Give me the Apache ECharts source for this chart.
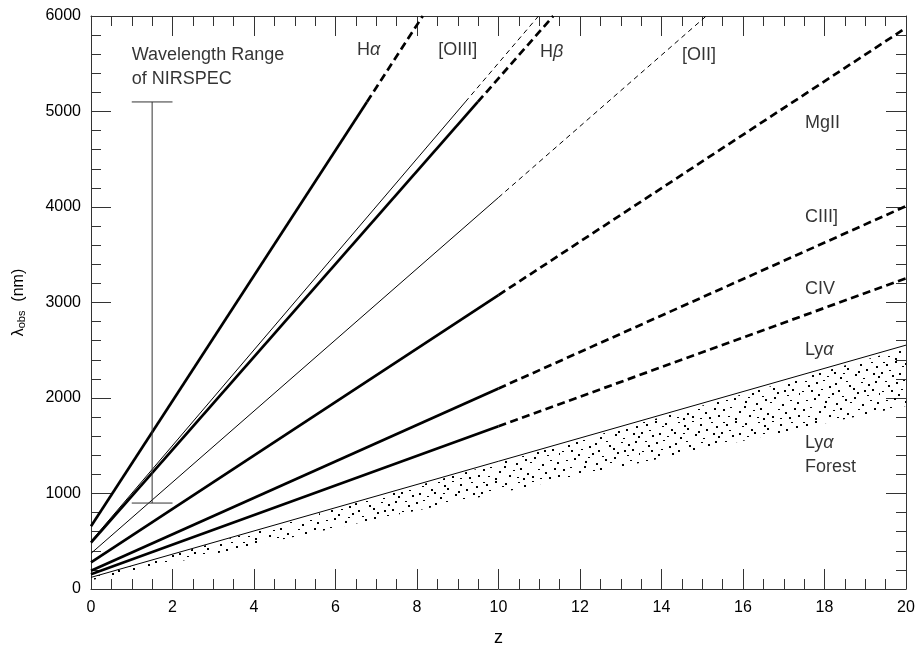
<!DOCTYPE html>
<html>
<head>
<meta charset="utf-8">
<script src="https://cdn.jsdelivr.net/npm/echarts@6/dist/echarts.min.js"></script>
<style>
  html, body { margin: 0; padding: 0; background: #fff; }
  #chart { width: 919px; height: 652px; }
</style>
</head>
<body>
<div id="chart"></div>
<script>
// Observed wavelength of emission lines versus redshift: λobs = λrest (1 + z)
const lineNames   = ['Hα', '[OIII]', 'Hβ', '[OII]', 'MgII', 'CIII]', 'CIV', 'Lyα'];
const restNm      = [656.3, 500.7, 486.1, 372.7, 279.8, 190.9, 154.9, 121.6];
// redshift where the solid part ends, and where the dashed continuation ends
const solidToZ    = [6.771, 9.186, 9.492, 10, 10, 10, 10, 20];
const dashedToZ   = [8.142, 10.983, 11.343, 15.099, 20, 20, 20, null];

// Lyα forest: between the Lyman limit and Lyα
const forestLowerNm = 91.2;
const forestUpperNm = 120.0;
const forestZ = [0, 20];

// NIRSPEC coverage bar
const nirspecZ = 1.5;
const nirspecCapZ = [1, 2];
const nirspecNm = [900, 5100];

const xTicks = [0, 2, 4, 6, 8, 10, 12, 14, 16, 18, 20];
const yTicks = [0, 1000, 2000, 3000, 4000, 5000, 6000];

const FONT = "'Liberation Sans', Arial, Helvetica, sans-serif";
const INK = '#000';
const FRAME = '#333';
const thinLines = new Set(['[OIII]', '[OII]', 'Lyα']);

// stipple tile for the forest band
function stippleTile() {
  const c = document.createElement('canvas');
  c.width = 80; c.height = 60;
  const g = c.getContext('2d');
  g.fillStyle = '#000';
  const dots = [
    [3,2],[6,4],[15,1],[22,6],[25,3],[31,9],[38,2],[44,5],[47,8],[52,1],[60,4],[66,9],[71,2],[76,6],
    [1,12],[9,10],[12,15],[19,13],[27,16],[34,12],[40,17],[43,13],[55,14],[58,11],[63,18],[73,13],[78,16],
    [5,21],[8,25],[16,22],[23,20],[29,26],[35,23],[46,21],[49,25],[53,28],[61,22],[68,24],[75,21],
    [2,31],[11,30],[18,34],[21,29],[32,33],[38,30],[42,36],[57,32],[64,30],[67,35],[72,29],[79,33],
    [6,40],[14,38],[25,41],[28,37],[36,43],[45,39],[50,42],[54,37],[62,44],[70,40],[77,42],
    [3,49],[10,47],[19,51],[24,46],[33,50],[40,48],[47,53],[58,49],[65,52],[74,48],
    [8,56],[15,58],[29,55],[37,57],[43,58],[52,56],[60,58],[69,57],[78,55]
  ];
  dots.forEach(([x, y], k) => g.fillRect(x, y, 2, k % 3 === 0 ? 1 : 2));
  return c;
}

const series = [];

// emission lines: solid segment, then dashed continuation
lineNames.forEach((name, i) => {
  const r = restNm[i];
  const heavy = !thinLines.has(name);
  const w = heavy ? 2.7 : 1;
  series.push({
    type: 'line', name, symbol: 'none', silent: true, z: 3,
    lineStyle: { color: INK, width: w, cap: 'butt' },
    data: [[0, r], [solidToZ[i], r * (1 + solidToZ[i])]]
  });
  if (dashedToZ[i] != null) {
    series.push({
      type: 'line', name: name + ' (dashed)', symbol: 'none', silent: true, z: 3,
      lineStyle: { color: INK, width: w, type: heavy ? [8, 4.5] : [5, 4], cap: 'butt' },
      data: [[solidToZ[i], r * (1 + solidToZ[i])], [dashedToZ[i], r * (1 + dashedToZ[i])]]
    });
  }
});

// stippled Lyα forest band
const tile = stippleTile();
series.push({
  type: 'custom', silent: true, z: 2,
  data: [[forestZ[0], forestZ[1]]],
  renderItem: (params, api) => {
    const z0 = api.value(0), z1 = api.value(1);
    const pts = [
      api.coord([z0, forestLowerNm * (1 + z0)]),
      api.coord([z1, forestLowerNm * (1 + z1)]),
      api.coord([z1, forestUpperNm * (1 + z1)]),
      api.coord([z0, forestUpperNm * (1 + z0)])
    ];
    return {
      type: 'polygon',
      shape: { points: pts },
      style: { fill: { image: tile, repeat: 'repeat' }, stroke: null }
    };
  }
});

// NIRSPEC coverage bar with caps
const barStyle = { color: '#333', width: 1 };
series.push(
  { type: 'line', symbol: 'none', silent: true, lineStyle: barStyle,
    data: [[nirspecZ, nirspecNm[0]], [nirspecZ, nirspecNm[1]]] },
  { type: 'line', symbol: 'none', silent: true, lineStyle: barStyle,
    data: [[nirspecCapZ[0], nirspecNm[0]], [nirspecCapZ[1], nirspecNm[0]]] },
  { type: 'line', symbol: 'none', silent: true, lineStyle: barStyle,
    data: [[nirspecCapZ[0], nirspecNm[1]], [nirspecCapZ[1], nirspecNm[1]]] }
);

// text annotations anchored in data coordinates (left edge, vertical middle)
const rich = {
  t: { fontSize: 18, fontFamily: FONT, color: '#000', lineHeight: 24 },
  g: { fontSize: 18, fontFamily: FONT, color: '#000', fontStyle: 'italic', lineHeight: 24 }
};
const notes = [
  { at: [1.0, 5470], text: '{t|Wavelength Range}\n{t|of NIRSPEC}' },
  { at: [6.53, 5645], text: '{t|H}{g|α}' },
  { at: [8.52, 5645], text: '{t|[OIII]}' },
  { at: [11.02, 5625], text: '{t|H}{g|β}' },
  { at: [14.5, 5593], text: '{t|[OII]}' },
  { at: [17.52, 4880], text: '{t|MgII}' },
  { at: [17.52, 3900], text: '{t|CIII]}' },
  { at: [17.52, 3145], text: '{t|CIV}' },
  { at: [17.52, 2500], text: '{t|Ly}{g|α}' },
  { at: [17.52, 1400], text: '{t|Ly}{g|α}\n{t|Forest}' }
];
series.push({
  type: 'scatter', silent: true, symbolSize: 0, z: 5,
  data: notes.map(n => ({
    value: n.at,
    label: { show: true, position: 'right', distance: 0, formatter: n.text, rich, align: 'left' }
  }))
});

const axisCommon = {
  axisLine: { show: true, onZero: false, lineStyle: { color: FRAME, width: 1 } },
  axisTick: { show: true, inside: true, length: 20, lineStyle: { color: FRAME, width: 1 } },
  minorTick: { show: true, length: 10, lineStyle: { color: FRAME, width: 1 } },
  splitLine: { show: false },
  minorSplitLine: { show: false }
};

const chart = echarts.init(document.getElementById('chart'), null, { renderer: 'canvas' });
chart.setOption({
  animation: false,
  backgroundColor: '#fff',
  grid: { left: 91, right: 13, top: 16, bottom: 61, containLabel: false },
  xAxis: [
    Object.assign({}, axisCommon, {
      type: 'value', position: 'bottom', min: xTicks[0], max: xTicks[xTicks.length - 1], interval: 2,
      minorTick: Object.assign({}, axisCommon.minorTick, { splitNumber: 4 }),
      axisLabel: { color: '#000', fontSize: 16, fontFamily: FONT, margin: 11,
        formatter: v => (xTicks.includes(v) ? String(v) : '') },
      name: 'z', nameLocation: 'middle', nameGap: 40,
      nameTextStyle: { color: '#000', fontSize: 18, fontFamily: FONT }
    }),
    Object.assign({}, axisCommon, {
      type: 'value', position: 'top', min: xTicks[0], max: xTicks[xTicks.length - 1], interval: 2,
      minorTick: Object.assign({}, axisCommon.minorTick, { splitNumber: 4 }),
      axisLabel: { show: false }
    })
  ],
  yAxis: [
    Object.assign({}, axisCommon, {
      type: 'value', position: 'left', min: yTicks[0], max: yTicks[yTicks.length - 1], interval: 1000,
      minorTick: Object.assign({}, axisCommon.minorTick, { splitNumber: 5 }),
      axisLabel: { color: '#000', fontSize: 16, fontFamily: FONT, margin: 10,
        formatter: v => (yTicks.includes(v) ? String(v) : '') },
      name: '{t|λ}{s|obs}{t|  (nm)}', nameLocation: 'middle', nameGap: 64, nameRotate: 90,
      nameTextStyle: {
        color: '#000', fontFamily: FONT,
        rich: {
          t: { fontSize: 16, fontFamily: FONT, color: '#000' },
          s: { fontSize: 11, fontFamily: FONT, color: '#000', verticalAlign: 'bottom', padding: [6, 0, 0, 0] }
        }
      }
    }),
    Object.assign({}, axisCommon, {
      type: 'value', position: 'right', min: yTicks[0], max: yTicks[yTicks.length - 1], interval: 1000,
      minorTick: Object.assign({}, axisCommon.minorTick, { splitNumber: 5 }),
      axisLabel: { show: false }
    })
  ],
  series
});
</script>
</body>
</html>
